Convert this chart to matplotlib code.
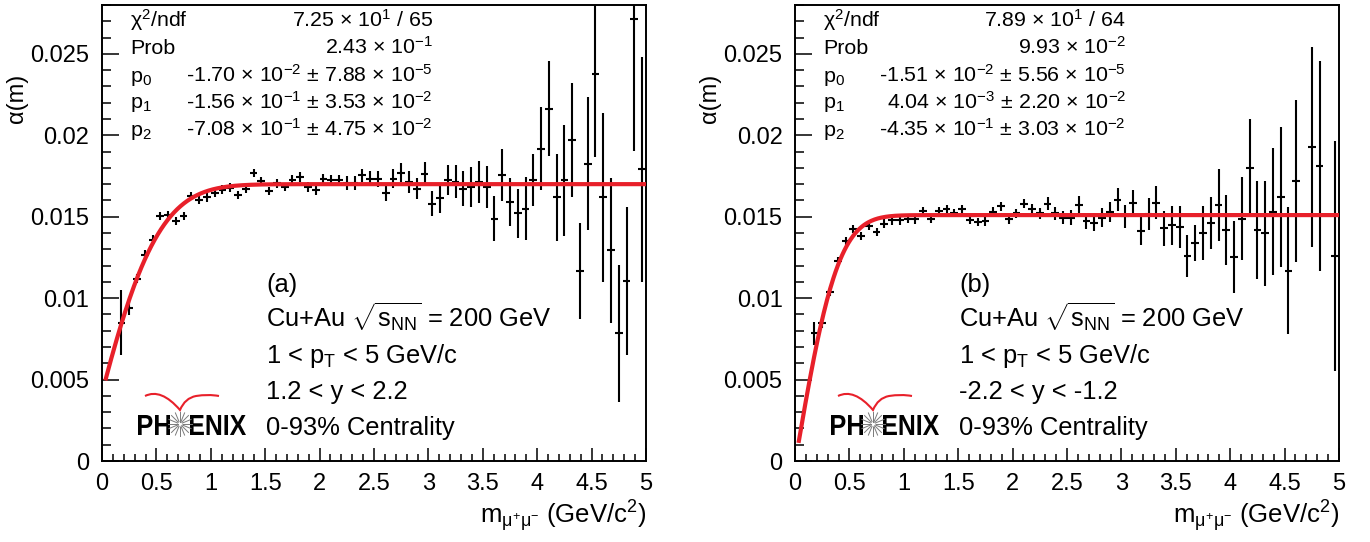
import math
import numpy as np
import matplotlib
matplotlib.use("Agg")
import matplotlib.pyplot as plt
from matplotlib.ticker import MultipleLocator, FuncFormatter
from matplotlib.lines import Line2D
from matplotlib.patches import PathPatch
from matplotlib.path import Path
from matplotlib.textpath import TextPath
from matplotlib.font_manager import FontProperties
from matplotlib.transforms import Affine2D

# ========================
# Data
# ========================
# 70 mass bins between 0 and 5 GeV/c^2, the first two are empty
bin_edges = np.linspace(0, 5, 71)
mass = 0.5 * (bin_edges[:-1] + bin_edges[1:])[2:]
mass_halfwidth = 0.5 * (bin_edges[1] - bin_edges[0])

alpha_fwd = [
    0.00849, 0.00937, 0.0112, 0.01264, 0.0136, 0.01505, 0.01513, 0.01474, 0.01503, 0.01628,
    0.01605, 0.01618, 0.01646, 0.01667, 0.01679, 0.01632, 0.01673, 0.01769, 0.0172, 0.01658,
    0.01704, 0.01683, 0.01724, 0.01744, 0.01683, 0.01663, 0.01734, 0.01728, 0.01728, 0.01704,
    0.01704, 0.01755, 0.01734, 0.01734, 0.01646, 0.01734, 0.01771, 0.01714, 0.01673, 0.01765,
    0.01581, 0.01612, 0.01724, 0.01714, 0.01673, 0.01683, 0.01714, 0.01683, 0.01489, 0.01755,
    0.01591, 0.0152, 0.0155, 0.01724, 0.01918, 0.02164, 0.01618, 0.01724, 0.01973, 0.01168,
    0.01826, 0.02374, 0.01618, 0.01294, 0.00783, 0.01106, 0.02716, 0.0179,
]
alpha_fwd_err = [
    0.0020, 0.0004, 0.0003, 0.0003, 0.0003, 0.00025, 0.00025, 0.00025, 0.00025, 0.00025,
    0.00025, 0.00025, 0.00025, 0.00025, 0.00025, 0.00025, 0.00025, 0.00025, 0.00025, 0.00025,
    0.00025, 0.00025, 0.0003, 0.0003, 0.0003, 0.0003, 0.0003, 0.0003, 0.0003, 0.00043,
    0.00043, 0.0004, 0.00047, 0.00049, 0.00051, 0.00056, 0.00058, 0.00066, 0.00066, 0.00072,
    0.00074, 0.00092, 0.00092, 0.00102, 0.00107, 0.00123, 0.00128, 0.00131, 0.00138, 0.00161,
    0.00148, 0.00153, 0.00194, 0.0016, 0.00256, 0.00291, 0.0027, 0.00342, 0.0035, 0.00293,
    0.00409, 0.00507, 0.00516, 0.00445, 0.00419, 0.00453, 0.0081, 0.0069,
]

alpha_bwd = [
    0.00783, 0.00845, 0.01039, 0.01229, 0.0135, 0.01423, 0.0138, 0.01444, 0.01407, 0.01458,
    0.01477, 0.01477, 0.01489, 0.01483, 0.01536, 0.01487, 0.01536, 0.01546, 0.01524, 0.01546,
    0.01479, 0.01468, 0.01474, 0.0153, 0.01564, 0.01483, 0.0152, 0.01581, 0.01548, 0.0152,
    0.01581, 0.0152, 0.01495, 0.01495, 0.01575, 0.01474, 0.01462, 0.01495, 0.0153, 0.01605,
    0.01503, 0.01587, 0.01413, 0.01515, 0.01587, 0.01428, 0.01448, 0.01437, 0.01258, 0.01339,
    0.01401, 0.01462, 0.01571, 0.01417, 0.01254, 0.01489, 0.018, 0.01417, 0.01397, 0.0153,
    0.01622, 0.01168, 0.01718, np.nan, 0.01929, 0.0181, np.nan, 0.01258,
]
alpha_bwd_err = [
    0.0007, 0.0003, 0.00025, 0.00025, 0.00025, 0.00025, 0.00025, 0.00025, 0.00025, 0.00025,
    0.00025, 0.00025, 0.00025, 0.00025, 0.00025, 0.00025, 0.00025, 0.00025, 0.00025, 0.00025,
    0.00025, 0.00025, 0.00028, 0.00028, 0.00028, 0.00028, 0.00028, 0.00028, 0.00028, 0.00036,
    0.00041, 0.00041, 0.00041, 0.00046, 0.00053, 0.00048, 0.00051, 0.00056, 0.00061, 0.00069,
    0.00072, 0.00077, 0.00085, 0.00098, 0.001, 0.00106, 0.00119, 0.0013, 0.00128, 0.00112,
    0.00164, 0.00158, 0.0022, 0.00215, 0.0022, 0.00256, 0.00297, 0.00302, 0.00322, 0.00389,
    0.0043, 0.00389, 0.00496, np.nan, 0.00616, 0.00644, np.nan, 0.00706,
]

# fit parameters  alpha(m) = p0 * erf((m - p1) / p2)
fit_fwd = [-1.70e-2, -1.56e-1, -7.08e-1]
fit_bwd = [-1.51e-2, 4.04e-3, -4.35e-1]

stats_fwd = [
    ("$\\chi^{2}$/ndf", "7.25 × 10$^{1}$ / 65"),
    ("Prob", "2.43 × 10$^{-1}$"),
    ("p$_{0}$", "-1.70 × 10$^{-2}$ ± 7.88 × 10$^{-5}$"),
    ("p$_{1}$", "-1.56 × 10$^{-1}$ ± 3.53 × 10$^{-2}$"),
    ("p$_{2}$", "-7.08 × 10$^{-1}$ ± 4.75 × 10$^{-2}$"),
]
stats_bwd = [
    ("$\\chi^{2}$/ndf", "7.89 × 10$^{1}$ / 64"),
    ("Prob", "9.93 × 10$^{-2}$"),
    ("p$_{0}$", "-1.51 × 10$^{-2}$ ± 5.56 × 10$^{-5}$"),
    ("p$_{1}$", "4.04 × 10$^{-3}$ ± 2.20 × 10$^{-2}$"),
    ("p$_{2}$", "-4.35 × 10$^{-1}$ ± 3.03 × 10$^{-2}$"),
]

labels_fwd = ["(a)", "Cu+Au $\\sqrt{s_{NN}}$ = 200 GeV", "1 < p$_{T}$ < 5 GeV/c",
              "1.2 < y < 2.2", "0-93% Centrality"]
labels_bwd = ["(b)", "Cu+Au $\\sqrt{s_{NN}}$ = 200 GeV", "1 < p$_{T}$ < 5 GeV/c",
              "-2.2 < y < -1.2", "0-93% Centrality"]

# ========================
# Style
# ========================
plt.rcParams['font.family'] = ['Liberation Sans', 'DejaVu Sans']
plt.rcParams['mathtext.fontset'] = 'custom'
plt.rcParams['mathtext.rm'] = 'Liberation Sans'
plt.rcParams['mathtext.it'] = 'Liberation Sans:italic'
plt.rcParams['mathtext.bf'] = 'Liberation Sans:bold'
plt.rcParams['mathtext.default'] = 'regular'

W, H = 1370, 542
fig = plt.figure(figsize=(W / 100, H / 100), dpi=100)
RED = '#e8202a'


def px(x, y):
    """figure pixel (from top-left) -> figure fraction"""
    return x / W, 1 - y / H


def boxed_text(s, x0, x1, baseline, cap):
    """bold text squeezed into the pixel box [x0, x1], cap height `cap`"""
    tp = TextPath((0, 0), s, size=1, prop=FontProperties(family='Liberation Sans', weight='bold'))
    bb = tp.get_extents()
    tr = Affine2D().translate(-bb.x0, 0).scale((x1 - x0) / bb.width, cap / bb.y1) \
        .translate(x0, H - baseline)
    fig.add_artist(PathPatch(tp, fc='black', ec='none', transform=tr))


def draw_logo(dx):
    # red wings
    verts = [(145, 396), (161, 388), (180, 410), (185, 398), (196, 396), (208, 394), (219, 396)]
    codes = [Path.MOVETO, Path.CURVE3, Path.CURVE3, Path.CURVE3, Path.CURVE3, Path.CURVE3, Path.CURVE3]
    verts = [px(x + dx, y) for x, y in verts]
    fig.add_artist(PathPatch(Path(verts, codes), fc='none', ec=RED, lw=1.5,
                             transform=fig.transFigure))
    # sunburst
    cx, cy = 180 + dx, 424
    for a in np.linspace(0, 2 * np.pi, 16, endpoint=False):
        x0, y0 = px(cx + 2.5 * np.cos(a), cy + 2.5 * np.sin(a))
        x1, y1 = px(cx + 12 * np.cos(a), cy + 12 * np.sin(a))
        fig.add_artist(Line2D([x0, x1], [y0, y1], color='#7a7a7a', lw=0.7,
                              transform=fig.transFigure))
    boxed_text("PH", 138 + dx, 170 + dx, 435, 20)
    boxed_text("ENIX", 190 + dx, 246 + dx, 435, 20)


def draw_panel(left_px, alpha, alpha_err, fit, stats, labels):
    ax = fig.add_axes([left_px / W, (H - 461) / H, 544 / W, 456 / H])
    ax.errorbar(mass, alpha, yerr=alpha_err, xerr=mass_halfwidth, fmt='none',
                ecolor='black', elinewidth=1.5, capsize=0, zorder=2)

    m = np.linspace(mass_halfwidth, 5, 500)
    curve = fit[0] * np.array([math.erf((v - fit[1]) / fit[2]) for v in m])
    ax.plot(m, curve, color=RED, lw=3, zorder=3)

    ax.set_xlim(0, 5)
    ax.set_ylim(0, 0.028)
    ax.xaxis.set_major_locator(MultipleLocator(0.5))
    ax.xaxis.set_minor_locator(MultipleLocator(0.1))
    ax.yaxis.set_major_locator(MultipleLocator(0.005))
    ax.yaxis.set_minor_locator(MultipleLocator(0.001))
    fmt = FuncFormatter(lambda v, p: "%g" % round(v, 4))
    ax.xaxis.set_major_formatter(fmt)
    ax.yaxis.set_major_formatter(fmt)
    ax.tick_params(which='both', direction='in', top=False, right=False,
                   labelsize=17, width=1.1)
    ax.tick_params(axis='x', which='major', length=9.5, pad=9)
    ax.tick_params(axis='x', which='minor', length=5)
    ax.tick_params(axis='y', which='major', length=12, pad=9)
    ax.tick_params(axis='y', which='minor', length=6.5)
    for s in ax.spines.values():
        s.set_linewidth(1.4)

    # axis titles
    ax.text(1.0, (461 - 523) / 456, "m$_{\\mu^{+}\\mu^{-}}$ (GeV/c$^{2}$)", fontsize=18.5,
            transform=ax.transAxes, ha='right', va='baseline')
    ax.text((17 - 102) / 544, (461 - 74) / 456, "α(m)", fontsize=17, rotation=90,
            transform=ax.transAxes, ha='center', va='top')

    # fit statistics
    for (name, val), yb in zip(stats, [27, 54, 81.5, 108.5, 135.5]):
        ax.text((130 - 102) / 544, (461 - yb) / 456, name, fontsize=15.4,
                transform=ax.transAxes, ha='left', va='baseline')
        ax.text((433 - 102) / 544, (461 - yb) / 456, val, fontsize=15.4,
                transform=ax.transAxes, ha='right', va='baseline')

    # description
    for txt, yb in zip(labels, [292, 328, 363, 399, 435]):
        ax.text((266 - 102) / 544, (461 - yb) / 456, txt, fontsize=18.4,
                transform=ax.transAxes, ha='left', va='baseline')
    return ax


draw_panel(102, alpha_fwd, alpha_fwd_err, fit_fwd, stats_fwd, labels_fwd)
draw_panel(795, alpha_bwd, alpha_bwd_err, fit_bwd, stats_bwd, labels_bwd)
draw_logo(0)
draw_logo(693)

fig.savefig("out.png", dpi=100)
